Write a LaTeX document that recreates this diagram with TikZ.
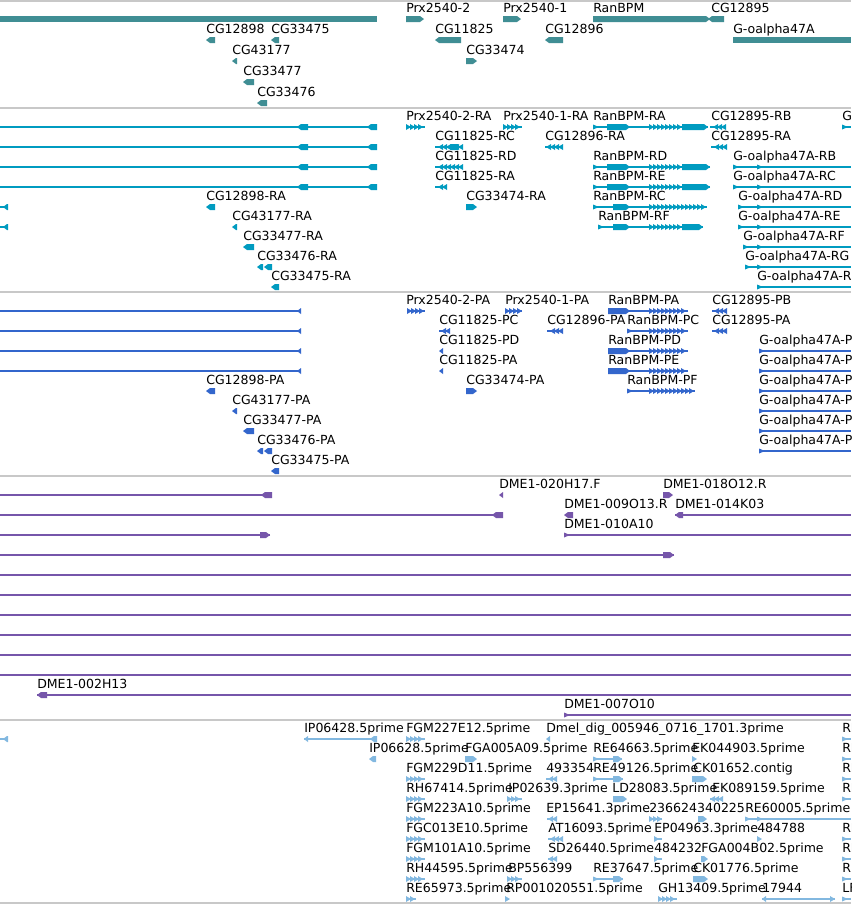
\documentclass[tikz,border=0pt]{standalone}
\usepackage{fontspec}
\newfontfamily\lblfont{DejaVu Sans}
\definecolor{c1}{RGB}{64,142,148}
\definecolor{c2}{RGB}{0,155,192}
\definecolor{c3}{RGB}{51,102,204}
\definecolor{c4}{RGB}{118,86,170}
\definecolor{c5}{RGB}{130,184,224}
\definecolor{sep}{RGB}{200,200,200}
\colorlet{cur}{c1}
\newcount\lbn
\newcommand\LB[3]{\global\advance\lbn by 1 \node[lbl] (lb\the\lbn) at (#1,{#2-6.5}) {#3};}
\newcommand\LN[3]{\draw[cur,line width=0.8pt] (#1,#3) -- (#2,#3);}
\newcommand\BL[3]{\fill[cur] (#1,#3) -- ({min(#1+4,#2)},{#3-3}) -- (#2,{#3-3}) -- (#2,{#3+3}) -- ({min(#1+4,#2)},{#3+3}) -- cycle;}
\newcommand\BR[3]{\fill[cur] (#2,#3) -- ({max(#2-4,#1)},{#3-3}) -- (#1,{#3-3}) -- (#1,{#3+3}) -- ({max(#2-4,#1)},{#3+3}) -- cycle;}
\newcommand\FL[2]{\fill[cur] (#1,{#2-2.5}) -- ({#1+6},#2) -- (#1,{#2+2.5}) -- cycle;}
\newcommand\TR[2]{\fill[cur] (#1,{#2-3}) -- ({#1+5},#2) -- (#1,{#2+3}) -- cycle;}
\newcommand\TL[2]{\fill[cur] (#1,#2) -- ({#1+4},{#2-3}) -- ({#1+4},{#2+3}) -- cycle;}
\newcommand\CR[3]{\draw[cur,line width=1.5pt] (#1,#3) -- (#2,#3);\pgfmathtruncatemacro\nn{max(0,(#2-#1-5)/4)}%
  \foreach \i in {0,...,\nn}{\fill[cur] ({#1+4*\i},{#3-3}) -- ({#1+4*\i+5},#3) -- ({#1+4*\i},{#3+3}) -- cycle;}}
\newcommand\CL[3]{\draw[cur,line width=1.5pt] (#1,#3) -- (#2,#3);\pgfmathtruncatemacro\nn{max(0,(#2-#1-5)/4)}%
  \foreach \i in {0,...,\nn}{\fill[cur] ({#2-4*\i},{#3-3}) -- ({#2-4*\i-5},#3) -- ({#2-4*\i},{#3+3}) -- cycle;}}
\begin{document}
\begin{tikzpicture}[x=0.75pt,y=-0.75pt,
  lbl/.style={anchor=base west,inner sep=0pt,font=\lblfont\fontsize{9.4pt}{11pt}\selectfont,text=black}]
\useasboundingbox (0,0) rectangle (851,904);
\clip (0,0) rectangle (851,904);
\fill[white] (0,0) rectangle (851,904);
\foreach \s in {1,108,292,476,720,903} {\draw[sep,line width=1.1pt] (0,\s) -- (851,\s);}
% ---------------- track 1 : genes
\colorlet{cur}{c1}
\fill[cur] (0,16) rectangle (377,22);
\BR{406}{424}{19}\LB{406}{19}{Prx2540-2}
\BR{503}{521}{19}\LB{503}{19}{Prx2540-1}
\BR{593}{710}{19}\LB{593}{19}{RanBPM}
\BL{708}{724}{19}\LB{711}{19}{CG12895}
\fill[cur] (733,37) rectangle (851,43);\LB{733}{40}{G-oalpha47A}
\BL{206}{215}{40}\LB{206}{40}{CG12898}
\BL{271}{279}{40}\LB{271}{40}{CG33475}
\BL{435}{461}{40}\LB{435}{40}{CG11825}
\BL{545}{563}{40}\LB{545}{40}{CG12896}
\BL{232}{237}{61}\LB{232}{61}{CG43177}
\BR{466}{477}{61}\LB{466}{61}{CG33474}
\BL{243}{254}{82}\LB{243}{82}{CG33477}
\BL{257}{267}{103}\LB{257}{103}{CG33476}
% ---------------- track 2 : transcripts
\colorlet{cur}{c2}
\foreach \r in {127,147,167,187} {\LN{0}{377}{\r}\BL{297}{308}{\r}\BL{367}{377}{\r}}
\CR{406}{425}{127}\LB{406}{127}{Prx2540-2-RA}
\CR{503}{522}{127}\LB{503}{127}{Prx2540-1-RA}
\FL{593}{127}\LN{593}{708}{127}\BR{607}{630}{127}\CR{649}{682}{127}\BR{682}{708}{127}\LB{593}{127}{RanBPM-RA}
\CL{710}{726}{127}\LB{711}{127}{CG12895-RB}
\FL{842}{127}\LN{842}{851}{127}\LB{842}{127}{G}
\CL{435}{463}{147}\BL{447}{458}{147}\LB{435}{147}{CG11825-RC}
\CL{545}{563}{147}\LB{545}{147}{CG12896-RA}
\CL{711}{727}{147}\LB{711}{147}{CG12895-RA}
\CL{435}{463}{167}\LB{435}{167}{CG11825-RD}
\FL{593}{167}\LN{593}{710}{167}\BR{607}{630}{167}\CR{649}{682}{167}\BR{682}{710}{167}\LB{593}{167}{RanBPM-RD}
\FL{733}{167}\FL{757}{167}\LN{733}{851}{167}\LB{733}{167}{G-oalpha47A-RB}
\CL{435}{447}{187}\LB{435}{187}{CG11825-RA}
\FL{593}{187}\LN{593}{710}{187}\BR{607}{630}{187}\CR{649}{682}{187}\BR{682}{710}{187}\LB{593}{187}{RanBPM-RE}
\FL{733}{187}\FL{757}{187}\LN{733}{851}{187}\LB{733}{187}{G-oalpha47A-RC}
\LN{0}{8}{207}\BL{3}{8}{207}
\BL{206}{215}{207}\LB{206}{207}{CG12898-RA}
\BR{466}{477}{207}\LB{466}{207}{CG33474-RA}
\FL{593}{207}\LN{593}{707}{207}\BR{613}{630}{207}\CR{649}{707}{207}\LB{593}{207}{RanBPM-RC}
\FL{738}{207}\FL{757}{207}\LN{738}{851}{207}\LB{738}{207}{G-oalpha47A-RD}
\LN{0}{8}{227}\BL{3}{8}{227}
\BL{232}{237}{227}\LB{232}{227}{CG43177-RA}
\FL{598}{227}\LN{598}{703}{227}\BR{613}{630}{227}\CR{649}{682}{227}\BR{682}{703}{227}\LB{598}{227}{RanBPM-RF}
\FL{738}{227}\FL{757}{227}\LN{738}{851}{227}\LB{738}{227}{G-oalpha47A-RE}
\BL{243}{254}{247}\LB{243}{247}{CG33477-RA}
\FL{743}{247}\FL{757}{247}\LN{743}{851}{247}\LB{743}{247}{G-oalpha47A-RF}
\BL{257}{263}{267}\BL{264}{272}{267}\LB{257}{267}{CG33476-RA}
\FL{745}{267}\FL{757}{267}\LN{745}{851}{267}\LB{745}{267}{G-oalpha47A-RG}
\BL{271}{279}{287}\LB{271}{287}{CG33475-RA}
\FL{757}{287}\LN{757}{851}{287}\LB{757}{287}{G-oalpha47A-R}
% ---------------- track 3 : proteins
\colorlet{cur}{c3}
\foreach \r in {311,331,351,371} {\LN{0}{300}{\r}\TL{297}{\r}}
\CR{407}{425}{311}\LB{406}{311}{Prx2540-2-PA}
\CR{505}{522}{311}\LB{505}{311}{Prx2540-1-PA}
\BR{608}{630}{311}\LN{608}{688}{311}\CR{649}{688}{311}\LB{608}{311}{RanBPM-PA}
\CL{712}{727}{311}\LB{712}{311}{CG12895-PB}
\CL{439}{450}{331}\LB{439}{331}{CG11825-PC}
\CL{547}{563}{331}\LB{547}{331}{CG12896-PA}
\FL{627}{331}\LN{627}{688}{331}\CR{649}{688}{331}\LB{627}{331}{RanBPM-PC}
\CL{712}{727}{331}\LB{712}{331}{CG12895-PA}
\TL{439}{351}\LB{439}{351}{CG11825-PD}
\BR{608}{630}{351}\LN{608}{688}{351}\CR{649}{688}{351}\LB{608}{351}{RanBPM-PD}
\TL{439}{371}\LB{439}{371}{CG11825-PA}
\BR{608}{630}{371}\LN{608}{688}{371}\CR{649}{688}{371}\LB{608}{371}{RanBPM-PE}
\BL{206}{215}{391}\LB{206}{391}{CG12898-PA}
\BR{466}{477}{391}\LB{466}{391}{CG33474-PA}
\FL{627}{391}\LN{627}{695}{391}\CR{649}{695}{391}\LB{627}{391}{RanBPM-PF}
\BL{232}{237}{411}\LB{232}{411}{CG43177-PA}
\BL{243}{254}{431}\LB{243}{431}{CG33477-PA}
\BL{257}{263}{451}\BL{264}{272}{451}\LB{257}{451}{CG33476-PA}
\BL{271}{279}{471}\LB{271}{471}{CG33475-PA}
\foreach \r in {351,371,391,411,431,451} {\FL{759}{\r}\LN{759}{851}{\r}\LB{759}{\r}{G-oalpha47A-P}}
% ---------------- track 4 : DME1 clones
\colorlet{cur}{c4}
\LN{0}{272}{495}\BL{261}{272}{495}
\TL{499}{495}\LB{499}{495}{DME1-020H17.F}
\BR{663}{673}{495}\LB{663}{495}{DME1-018O12.R}
\LN{0}{503}{515}\BL{492}{503}{515}
\BL{564}{573}{515}\LB{564}{515}{DME1-009O13.R}
\LN{675}{851}{515}\BL{675}{683}{515}\LB{675}{515}{DME1-014K03}
\LN{0}{270}{535}\BR{260}{270}{535}
\FL{564}{535}\LN{564}{851}{535}\LB{564}{535}{DME1-010A10}
\LN{0}{674}{555}\BR{663}{674}{555}
\foreach \r in {575,595,615,635,655,675} {\LN{0}{851}{\r}}
\LN{37}{851}{695}\BL{37}{47}{695}\LB{37}{695}{DME1-002H13}
\FL{564}{715}\LN{564}{851}{715}\LB{564}{715}{DME1-007O10}
% ---------------- track 5 : ESTs
\colorlet{cur}{c5}
\LN{0}{8}{739}\BL{3}{8}{739}
\TL{304}{739}\LN{304}{377}{739}\BL{370}{377}{739}\LB{304}{739}{IP06428.5prime}
\CR{406}{425}{739}\LB{406}{739}{FGM227E12.5prime}
\TL{546}{739}\LB{546}{739}{Dmel\_dig\_005946\_0716\_1701.3prime}
\BL{369}{376}{759}\LB{369}{759}{IP06628.5prime}
\BR{465}{477}{759}\LB{465}{759}{FGA005A09.5prime}
\FL{593}{759}\LN{593}{622}{759}\BR{613}{622}{759}\LB{593}{759}{RE64663.5prime}
\TR{692}{759}\LB{692}{759}{EK044903.5prime}
\CR{406}{425}{779}\LB{406}{779}{FGM229D11.5prime}
\CL{546}{557}{779}\LB{546}{779}{493354}
\FL{593}{779}\LN{593}{623}{779}\BR{613}{623}{779}\LB{593}{779}{RE49126.5prime}
\BR{692}{707}{779}\LB{693}{779}{CK01652.contig}
\CR{406}{425}{799}\LB{406}{799}{RH67414.5prime}
\CR{507}{522}{799}\LB{508}{799}{IP02639.3prime}
\BR{613}{627}{799}\LB{612}{799}{LD28083.5prime}
\CL{710}{723}{799}\LB{712}{799}{EK089159.5prime}
\CR{406}{425}{819}\LB{406}{819}{FGM223A10.5prime}
\CL{547}{557}{819}\LB{546}{819}{EP15641.3prime}
\CR{649}{662}{819}\LB{649}{819}{236624340225}
\BR{698}{707}{819}
\FL{745}{819}\FL{757}{819}\LN{745}{851}{819}\LB{745}{819}{RE60005.5prime}
\CR{406}{425}{839}\LB{406}{839}{FGC013E10.5prime}
\CL{548}{563}{839}\LB{548}{839}{AT16093.5prime}
\CR{654}{662}{839}\LB{654}{839}{EP04963.3prime}
\TR{757}{839}\LB{757}{839}{484788}
\CR{406}{425}{859}\LB{406}{859}{FGM101A10.5prime}
\CL{548}{557}{859}\LB{548}{859}{SD26440.5prime}
\CR{654}{662}{859}\LB{654}{859}{484232}
\BR{701}{708}{859}\LB{701}{859}{FGA004B02.5prime}
\CR{406}{425}{879}\LB{406}{879}{RH44595.5prime}
\CR{507}{522}{879}\LB{508}{879}{BP556399}
\FL{593}{879}\LN{593}{623}{879}\BR{613}{623}{879}\LB{593}{879}{RE37647.5prime}
\BR{693}{708}{879}\LB{693}{879}{CK01776.5prime}
\CR{406}{416}{899}\LB{406}{899}{RE65973.5prime}
\TR{505}{899}\LB{506}{899}{RP001020551.5prime}
\CR{658}{677}{899}\LB{658}{899}{GH13409.5prime}
\TL{762}{899}\LN{762}{835}{899}\TR{830}{899}\LB{762}{899}{17944}
\foreach \r in {739,759,779,799,839,859} {\FL{842}{\r}\LN{842}{851}{\r}\LB{842}{\r}{RE}}
\FL{842}{879}\LN{842}{851}{879}\LB{842}{879}{R}
\FL{842}{899}\LN{842}{851}{899}\LB{842}{899}{LF}
\end{tikzpicture}
\end{document}
